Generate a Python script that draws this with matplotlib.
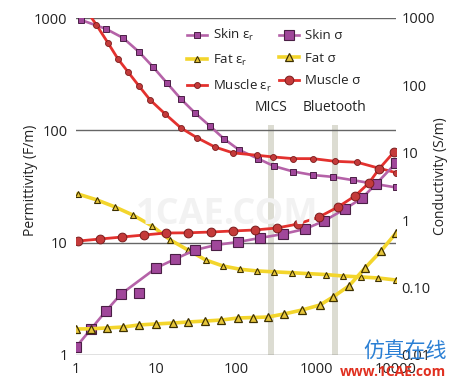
import matplotlib
matplotlib.use("Agg")
import matplotlib.pyplot as plt

plt.rcParams['font.family'] = ['Open Sans', 'DejaVu Sans']
plt.rcParams['mathtext.fontset'] = 'custom'
plt.rcParams['mathtext.rm'] = 'Open Sans'

# ---------------- data (frequency in MHz) ----------------
skin_eps_f = [1.15, 2.37, 3.87, 6.13, 9.17, 13.7, 20.5, 30.7, 47.3, 70.8, 109, 188, 299, 516, 917, 1631, 2900, 10000]
skin_eps = [962, 800, 665, 499, 367, 264, 190, 143, 109, 84, 67, 56, 48, 43, 40, 38.5, 36, 31]

muscle_eps_f = [1.0, 1.8, 2.51, 3.35, 4.47, 6.13, 8.41, 13.0, 20.5, 32.5, 54.6, 91.7, 183, 290, 516, 917, 1728, 3256, 6131, 10000]
muscle_eps = [1600, 868, 600, 432, 331, 248, 187, 140, 105, 86, 71, 63, 60, 58, 56, 56, 53, 52, 46, 42]

fat_eps_f = [1.06, 1.83, 3.07, 5.16, 8.91, 15.0, 25.1, 42, 68.8, 112, 183, 299, 501, 794, 1334, 2175, 3652, 5957, 10000]
fat_eps = [27.1, 24, 20.8, 17.6, 14.1, 10.6, 8.6, 7.0, 6.2, 5.8, 5.6, 5.5, 5.4, 5.3, 5.2, 5.05, 4.95, 4.85, 4.65]

skin_sig_f = [1.0, 1.54, 2.37, 3.65, 10, 17.3, 30.7, 56.2, 106, 200, 387, 729, 1259, 2305, 3758, 5623, 10000]
skin_sig = [0.0131, 0.0243, 0.045, 0.080, 0.195, 0.265, 0.361, 0.429, 0.475, 0.545, 0.624, 0.740, 0.973, 1.47, 2.13, 3.44, 7.06]
skin_sig_extra_f = [6.13]
skin_sig_extra = [0.083]

muscle_sig_f = [1.06, 2.0, 3.76, 7.08, 13.3, 25.1, 48.7, 91.7, 173, 325, 596, 1090, 1884, 3073, 4597, 6131, 9441]
muscle_sig = [0.491, 0.526, 0.563, 0.603, 0.646, 0.650, 0.668, 0.692, 0.716, 0.766, 0.879, 1.115, 1.57, 2.29, 3.57, 5.75, 10.3]

fat_sig_f = [1.0, 1.54, 2.44, 3.87, 6.13, 10, 16.3, 25.1, 41, 65, 106, 163, 251, 398, 668, 1122, 1631, 2585, 4098, 6494, 10000]
fat_sig = [0.0243, 0.0245, 0.0252, 0.026, 0.0279, 0.0289, 0.0298, 0.0309, 0.0319, 0.033, 0.0354, 0.036, 0.0366, 0.0406, 0.0465, 0.0552, 0.0726, 0.106, 0.195, 0.349, 0.646]

bands = {"MICS": (250, 300), "Bluetooth": (1570, 1870)}

x_ticks = [1, 10, 100, 1000, 10000]
x_labels = ["1", "10", "100", "1000", "10000"]
left_ticks = [1, 10, 100, 1000]
left_labels = ["1", "10", "100", "1000"]
right_ticks = [0.01, 0.1, 1, 10, 100, 1000]
right_labels = ["0.01", "0.10", "1", "10", "100", "1000"]

# ---------------- styles ----------------
SKIN_L, SKIN_M, SKIN_E = "#b562a8", "#a0479a", "#4a1f45"
FAT_L, FAT_M, FAT_E = "#f3d52c", "#e6c53a", "#3d3000"
MUS_L, MUS_M, MUS_E = "#e3312e", "#c43a3a", "#7a1c1c"

fig = plt.figure(figsize=(4.55, 3.83), dpi=100)
ax = fig.add_axes([76/455, 1-355/383, 320/455, 337/383])
ax2 = ax.twinx()

ax.set_xscale("log"); ax.set_yscale("log"); ax2.set_yscale("log")
ax.set_xlim(1, 10000)
ax.set_ylim(1, 1000)
ax2.set_ylim(0.01, 1000)

for s in list(ax.spines.values()) + list(ax2.spines.values()):
    s.set_visible(False)

ax.set_yticks(left_ticks); ax.set_yticklabels(left_labels)
ax.set_xticks(x_ticks); ax.set_xticklabels(x_labels)
ax2.set_yticks(right_ticks); ax2.set_yticklabels(right_labels)
ax.minorticks_off(); ax2.minorticks_off()
ax.tick_params(axis="both", length=0, labelsize=10.5, colors="#222222")
ax.tick_params(axis="y", pad=6)
ax.tick_params(axis="x", pad=5)
ax2.tick_params(axis="y", length=0, labelsize=10.5, colors="#222222", pad=4)
ax.grid(axis="y", color="#666666", lw=1.0)
ax.grid(axis="x", visible=False)
ax.set_axisbelow(True)

# frequency bands
for name, (lo, hi) in bands.items():
    ax.axvspan(lo, hi, ymin=0, ymax=0.683, color="#dcdcd2", lw=0, zorder=0.5)
    xc = (lo * hi) ** 0.5
    ax.text(xc, 0.712, name, transform=ax.get_xaxis_transform(), ha="center", va="bottom",
            fontsize=10, color="#222222")

# permittivity
h1, = ax.plot(skin_eps_f, skin_eps, color=SKIN_L, lw=1.9, marker="s", ms=4.4,
              mfc=SKIN_M, mec=SKIN_E, mew=0.7, label="Skin ε$_\\mathregular{r}$", zorder=3)
h2, = ax.plot(fat_eps_f, fat_eps, color=FAT_L, lw=2.6, marker="^", ms=4.7,
              mfc=FAT_M, mec=FAT_E, mew=0.8, label="Fat ε$_\\mathregular{r}$", zorder=3)
h3, = ax.plot(muscle_eps_f, muscle_eps, color=MUS_L, lw=2.0, marker="o", ms=4.3,
              mfc=MUS_M, mec=MUS_E, mew=0.6, label="Muscle ε$_\\mathregular{r}$", zorder=3)

# conductivity
h4, = ax2.plot(skin_sig_f, skin_sig, color=SKIN_L, lw=1.9, marker="s", ms=6.8,
               mfc=SKIN_M, mec=SKIN_E, mew=0.8, label="Skin σ", zorder=3)
ax2.plot(skin_sig_extra_f, skin_sig_extra, ls="none", marker="s", ms=6.8,
         mfc=SKIN_M, mec=SKIN_E, mew=0.8, zorder=3)
h5, = ax2.plot(fat_sig_f, fat_sig, color=FAT_L, lw=2.6, marker="^", ms=6.3,
               mfc=FAT_M, mec=FAT_E, mew=0.9, label="Fat σ", zorder=3)
h6, = ax2.plot(muscle_sig_f, muscle_sig, color=MUS_L, lw=2.0, marker="o", ms=6.3,
               mfc=MUS_M, mec=MUS_E, mew=0.7, label="Muscle σ", zorder=3)

leg = ax2.legend(handles=[h1, h2, h3, h4, h5, h6], ncol=2, loc="upper left",
                 bbox_to_anchor=(0.318, 1.0), frameon=False, fontsize=9.5,
                 handlelength=1.5, handletextpad=0.5, columnspacing=0.5,
                 labelspacing=0.72, borderaxespad=0.3)
for t in leg.get_texts():
    t.set_color("#222222")

fig.text(30/455, 1-180/383, "Permittivity (F/m)", rotation=90, ha="center", va="center",
         fontsize=10, color="#222222")
fig.text(440/455, 1-176/383, "Conductivity (S/m)", rotation=90, ha="center", va="center",
         fontsize=10, color="#222222")

# watermarks
fig.text(0.50, 1-215/383, "1CAE.COM", ha="center", va="center", fontsize=26,
         color="#f2f2f2", fontweight="bold", zorder=0)
fig.text(405/455, 1-352/383, "仿真在线", ha="center", va="center", fontsize=15,
         color="#2a7fd4", family=["Noto Sans CJK SC", "DejaVu Sans"])
fig.text(393/455, 1-372/383, "www.1CAE.com", ha="center", va="center", fontsize=10,
         color="#e03020", fontweight="bold")

fig.savefig("out.png", dpi=100, facecolor="white")
